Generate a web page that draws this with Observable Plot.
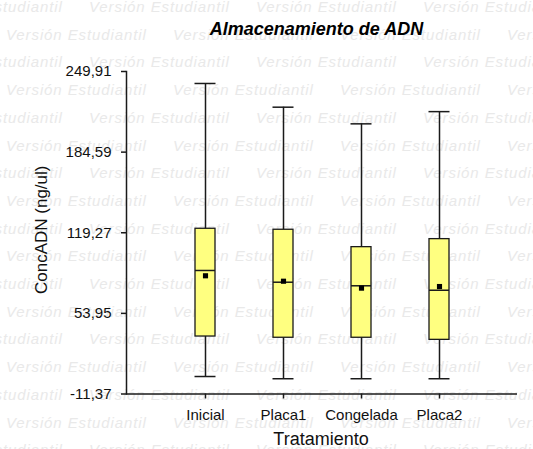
<!DOCTYPE html>
<html>
<head>
<meta charset="utf-8">
<script src="https://cdn.jsdelivr.net/npm/d3@7"></script>
<script src="https://cdn.jsdelivr.net/npm/@observablehq/plot@0.6"></script>
<style>
  html, body { margin: 0; padding: 0; background: #fff; }
  #wrap { position: relative; width: 533px; height: 449px; overflow: hidden; }
  #wm { position: absolute; left: 0; top: 0; width: 533px; height: 449px; overflow: hidden;
        font-family: "Liberation Sans", Arial, sans-serif; font-style: italic; font-size: 15px;
        letter-spacing: 0.9px; line-height: 16px; color: #e9e9e9; white-space: nowrap; }
  #wm div { position: absolute; }
  #chart { position: absolute; left: 0; top: 0; }
</style>
</head>
<body>
<div id="wrap"><div id="wm"></div><div id="chart"></div></div>
<script>
const title = "Almacenamiento de ADN";
const xTitle = "Tratamiento";
const yTitle = "ConcADN (ng/ul)";
const watermark = "Versión Estudiantil";

const categories = ["Inicial", "Placa1", "Congelada", "Placa2"];
const whiskerLow = [2.8, 1.0, 1.0, 1.0];
const q1 = [35.2, 34.2, 34.2, 32.5];
const medians = [88.7, 79.2, 76.3, 72.7];
const means = [84.4, 80.0, 74.4, 75.7];
const q3 = [122.5, 121.7, 107.6, 114.1];
const whiskerHigh = [240.2, 221.0, 207.5, 217.4];
const yTicks = [-11.37, 53.95, 119.27, 184.59, 249.91];

const rows = categories.map((c, i) => ({
  cat: c, lo: whiskerLow[i], q1: q1[i], med: medians[i], mean: means[i], q3: q3[i], hi: whiskerHigh[i]
}));

// watermark background
const wm = document.getElementById("wm");
for (let r = 0; r < 17; r++) {
  const off = (r % 2 === 0) ? 89 : 6;
  for (let k = -1; k < 4; k++) {
    const d = document.createElement("div");
    d.textContent = watermark;
    d.style.left = (off + k * 167) + "px";
    d.style.top = (7 + r * 27.7 - 8) + "px";
    wm.appendChild(d);
  }
}

const fmt = (v) => v.toFixed(2).replace(".", ",");
const ink = "#1a1a1a";

const chart = Plot.plot({
  width: 533,
  height: 449,
  marginLeft: 126,
  marginRight: 16,
  marginTop: 71,
  marginBottom: 55.5,
  style: { background: "transparent", fontFamily: "Liberation Sans, Arial, sans-serif", color: "#111" },
  x: { type: "band", domain: categories, paddingInner: 0.7442, paddingOuter: 0.8721, label: null },
  y: { domain: [yTicks[0], yTicks[yTicks.length - 1]], label: null },
  marks: [
    // axes lines
    Plot.ruleY([yTicks[0]], { stroke: ink, strokeWidth: 1.5 }),
    Plot.frame({ anchor: "left", stroke: ink, strokeWidth: 1.5 }),
    Plot.axisY({ ticks: yTicks, tickFormat: fmt, tickSize: 5, tickPadding: 10, stroke: ink, strokeWidth: 1.5,
      fontSize: 15, style: { letterSpacing: "0.5px" }, label: null }),
    Plot.axisX({ tickSize: 5, tickPadding: 10.5, stroke: ink, strokeWidth: 1.5, fontSize: 15,
      style: { letterSpacing: "0.4px" }, label: null }),
    // whiskers
    Plot.ruleX(rows, { x: "cat", y1: "lo", y2: "hi", stroke: ink, strokeWidth: 1.5 }),
    Plot.tickY(rows, { x: "cat", y: "hi", stroke: ink, strokeWidth: 1.5, insetLeft: -0.5, insetRight: -0.5 }),
    Plot.tickY(rows, { x: "cat", y: "lo", stroke: ink, strokeWidth: 1.5, insetLeft: -0.5, insetRight: -0.5 }),
    // boxes
    Plot.barY(rows, { x: "cat", y1: "q1", y2: "q3", fill: "#ffff80", stroke: ink, strokeWidth: 1.3 }),
    Plot.tickY(rows, { x: "cat", y: "med", stroke: ink, strokeWidth: 1.5 }),
    Plot.dot(rows, { x: "cat", y: "mean", symbol: "square", r: 2.9, fill: "#000", stroke: "none" }),
    // axis titles
    Plot.text([yTitle], { frameAnchor: "left", textAnchor: "middle", lineAnchor: "middle", rotate: -90,
      dx: -85, dy: -3, fontSize: 17, fill: "#111", style: { letterSpacing: "0.6px" } }),
    Plot.text([xTitle], { frameAnchor: "bottom", dy: 51, dx: -1, fontSize: 18, fill: "#111",
      style: { letterSpacing: "1px" } }),
    // title
    Plot.text([title], { frameAnchor: "top", dx: -5.5, dy: -37, lineAnchor: "bottom", fontSize: 18,
      fontWeight: "bold", fontStyle: "italic", fill: "#000", style: { letterSpacing: "0.2px" } })
  ]
});
document.getElementById("chart").appendChild(chart);
</script>
</body>
</html>
